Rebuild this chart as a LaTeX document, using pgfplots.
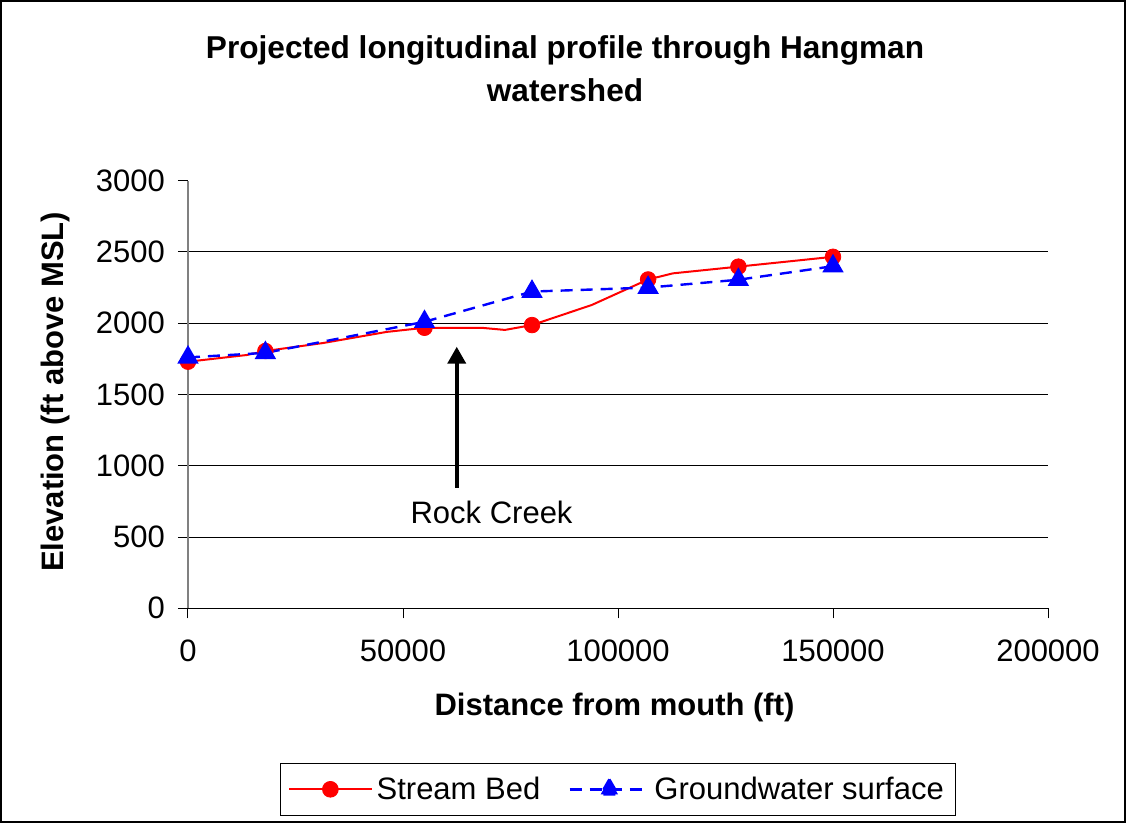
\documentclass[border=0pt]{standalone}
\usepackage{pgfplots}
\pgfplotsset{compat=1.18}
\usepackage{pgfplotstable}
\usepackage{fontspec}
\setmainfont{Liberation Sans}
\usetikzlibrary{arrows.meta}
\newcommand{\fs}{\fontsize{15.5pt}{18.6pt}\selectfont}
\newcommand{\tfs}{\fontsize{15.8pt}{19pt}\selectfont}

\pgfplotstableread{
x y
0 1730
13650 1777
18000 1805
31400 1861
46200 1939
55000 1968
68600 1967
73700 1953
80000 1987
93900 2128
107000 2307
112800 2350
128000 2397
139200 2432
150000 2466
}\streamline

\pgfplotstableread{
x y
0 1730
18000 1805
55000 1968
80000 1987
107000 2307
128000 2397
150000 2466
}\streammarks

\pgfplotstableread{
x y
0 1760
18000 1792
55000 2010
80000 2222
107000 2250
128000 2305
150000 2400
}\ground

\begin{document}
\begin{tikzpicture}
\useasboundingbox (0,0) rectangle (563pt,411.5pt);
\draw[black, line width=0.8pt] (0.5pt,0.5pt) rectangle (562.5pt,411pt);
\node[font=\tfs\bfseries] at (282.5pt,386.5pt) {Projected longitudinal profile through Hangman};
\node[font=\tfs\bfseries] at (282.5pt,366.5pt) {watershed};
\node[font=\fs\bfseries] at (307.25pt,58pt) {Distance from mouth (ft)};
\node[font=\fs\bfseries, rotate=90] at (27.5pt,215.5pt) {Elevation (ft above MSL)};
\begin{axis}[
  at={(94pt,107.35pt)}, anchor=south west,
  scale only axis, width=430pt, height=213.8pt,
  xmin=0, xmax=200000, ymin=0, ymax=3000,
  xtick={0,50000,100000,150000,200000},
  ytick={500,1000,1500,2000,2500},
  extra y ticks={0,3000}, extra y tick style={grid=none},
  ymajorgrids, grid style={black, line width=0.5pt},
  axis lines*=left,
  x axis line style={black, line width=0.5pt},
  y axis line style={gray, line width=1pt},
  tick align=outside, major tick length=5pt,
  tick style={black, line width=0.5pt},
  scaled x ticks=false, scaled y ticks=false,
  /pgf/number format/fixed, /pgf/number format/1000 sep={},
  /pgf/number format/assume math mode=true,
  tick label style={font=\fs, /pgf/number format/fixed, /pgf/number format/1000 sep={}},
  xticklabel style={yshift=-7pt},
  yticklabel style={xshift=-3pt},
  legend style={at={(0.5,-0.362)}, anchor=north, font=\fs, draw=black, line width=0.5pt,
    legend columns=2, inner xsep=4pt, inner ysep=4.5pt,
    /tikz/every even column/.append style={column sep=12pt}},
  legend cell align=left,
]
\addplot[red, line width=1pt, forget plot] table[x=x,y=y] {\streamline};
\addplot[only marks, mark=*, mark size=3.9pt, red,
  legend image code/.code={\draw[red,line width=1pt] (0cm,0cm) -- (1.45cm,0cm); \fill[red] (0.725cm,0cm) circle (3.9pt);}]
  table[x=x,y=y] {\streammarks};
\addlegendentry{Stream Bed}
\addplot[blue, line width=1.2pt, dash pattern=on 6pt off 4pt, mark=triangle*, mark size=5pt, mark options={solid},
  legend image code/.code={\draw[blue,line width=1.2pt, dash pattern=on 6pt off 4pt] (0cm,0cm) -- (1.4cm,0cm); \fill[blue] (0.7cm,0cm) ++(90:5pt) -- ++(-120:8.66pt) -- ++(0:8.66pt) -- cycle;}]
  table[x=x,y=y] {\ground};
\addlegendentry{Groundwater surface}
\draw[-{Triangle[length=8.5pt,width=9pt]}, line width=2pt] (axis cs:62500,844) -- (axis cs:62500,1835);
\node[font=\fs] at (axis cs:70600,676) {Rock Creek};
\end{axis}
\end{tikzpicture}
\end{document}
